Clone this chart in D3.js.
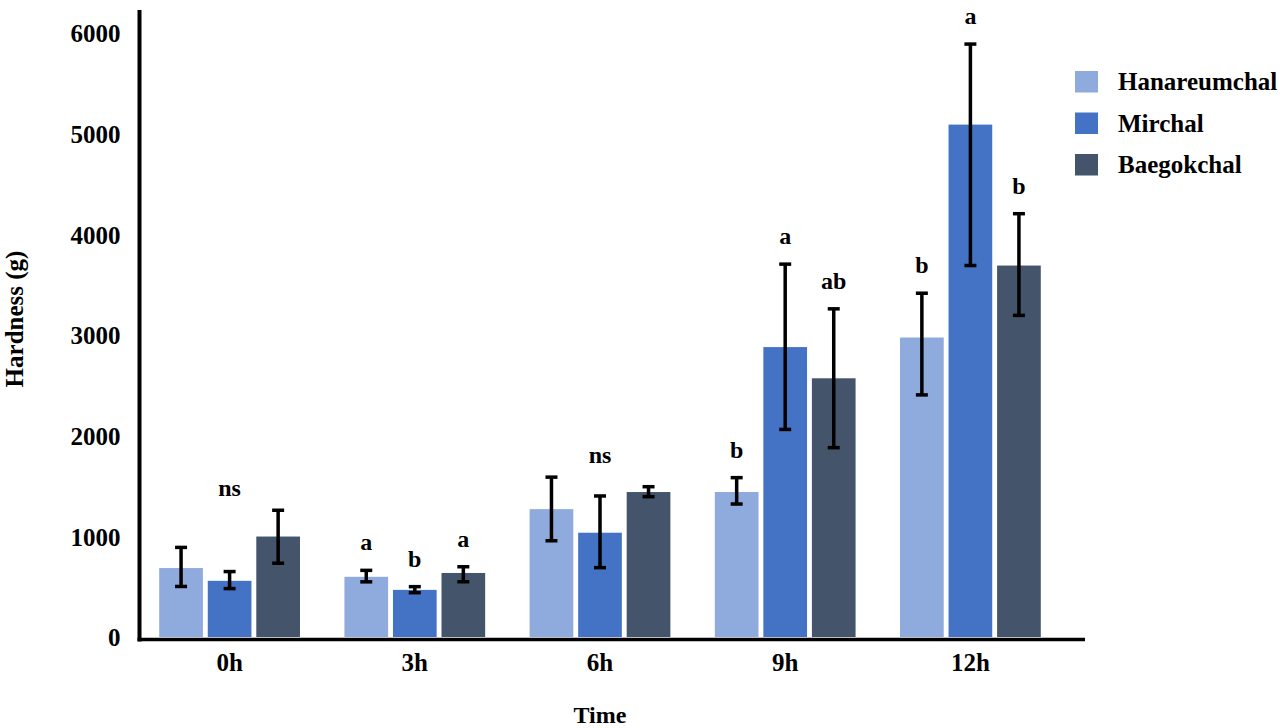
<!DOCTYPE html>
<html lang="en">
<head>
    <meta charset="UTF-8">
    <title>Hardness over time</title>
    <script src="https://cdnjs.cloudflare.com/ajax/libs/d3/7.8.5/d3.min.js"></script>
    <style>
        * { margin: 0; padding: 0; }
        body { background: #fff; width: 1280px; height: 728px; overflow: hidden; }
        svg text { font-family: "Liberation Serif", "Times New Roman", serif; font-weight: bold; fill: #000; }
    </style>
</head>
<body>
    <svg id="chart" width="1280" height="728"></svg>

    <script>
        // data
        const times = ['0h', '3h', '6h', '9h', '12h'];
        const varieties = ['Hanareumchal', 'Mirchal', 'Baegokchal'];
        const colors = ['#8FAADC', '#4472C4', '#44546A'];

        const hanareumchal = [685, 598, 1270, 1440, 2975];
        const mirchal = [558, 468, 1036, 2880, 5090];
        const baegokchal = [998, 636, 1440, 2570, 3690];

        // error bars are not always symmetric in the figure
        const hanareumchalUp = [205, 64, 318, 143, 440];
        const hanareumchalDown = [183, 50, 314, 119, 570];
        const mirchalUp = [92, 32, 365, 824, 800];
        const mirchalDown = [77, 28, 347, 818, 1400];
        const baegokchalUp = [261, 62, 53, 690, 515];
        const baegokchalDown = [265, 87, 46, 689, 495];

        // significance letters per bar, and "ns" per group
        const barLetters = [
            [null, null, null],
            ['a', 'b', 'a'],
            [null, null, null],
            ['b', 'a', 'ab'],
            ['b', 'a', 'b']
        ];
        const groupLetters = ['ns', null, 'ns', null, null];

        const yTicks = [0, 1000, 2000, 3000, 4000, 5000, 6000];

        const means = [hanareumchal, mirchal, baegokchal];
        const errUp = [hanareumchalUp, mirchalUp, baegokchalUp];
        const errDown = [hanareumchalDown, mirchalDown, baegokchalDown];

        const svg = d3.select('#chart');

        const x0 = d3.scaleBand()
            .domain(times)
            .range([137, 1063])
            .paddingInner(0.24)
            .paddingOuter(0.12);

        const x1 = d3.scaleBand()
            .domain(varieties)
            .range([0, x0.bandwidth()])
            .paddingInner(0.1);

        const y = d3.scaleLinear()
            .domain([0, 6000])
            .range([637, 33]);

        // build flat list of bars
        const bars = [];
        times.forEach((t, i) => {
            varieties.forEach((v, j) => {
                bars.push({
                    time: t, variety: v, idx: j,
                    value: means[j][i],
                    hi: means[j][i] + errUp[j][i],
                    lo: means[j][i] - errDown[j][i],
                    letter: barLetters[i][j]
                });
            });
        });

        const groups = svg.append('g')
            .selectAll('g')
            .data(bars)
            .enter().append('g')
            .attr('transform', d => `translate(${x0(d.time) + x1(d.variety)},0)`);

        groups.append('rect')
            .attr('x', 0)
            .attr('y', d => y(d.value))
            .attr('width', x1.bandwidth())
            .attr('height', d => y(0) - y(d.value))
            .attr('fill', d => colors[d.idx]);

        // error bars
        const cx = x1.bandwidth() / 2;
        const capW = 6;
        groups.append('line')
            .attr('x1', cx).attr('x2', cx)
            .attr('y1', d => y(d.hi))
            .attr('y2', d => y(d.lo))
            .attr('stroke', '#000').attr('stroke-width', 3.5);
        groups.append('line')
            .attr('x1', cx - capW).attr('x2', cx + capW)
            .attr('y1', d => y(d.hi))
            .attr('y2', d => y(d.hi))
            .attr('stroke', '#000').attr('stroke-width', 3.5);
        groups.append('line')
            .attr('x1', cx - capW).attr('x2', cx + capW)
            .attr('y1', d => y(d.lo))
            .attr('y2', d => y(d.lo))
            .attr('stroke', '#000').attr('stroke-width', 3.5);

        // letters above bars
        groups.filter(d => d.letter)
            .append('text')
            .attr('x', cx)
            .attr('y', d => y(d.hi) - 20)
            .attr('text-anchor', 'middle')
            .attr('font-size', '24px')
            .text(d => d.letter);

        // ns above groups
        times.forEach((t, i) => {
            if (!groupLetters[i]) return;
            const top = d3.max(varieties, (v, j) => means[j][i] + errUp[j][i]);
            svg.append('text')
                .attr('x', x0(t) + x0.bandwidth() / 2)
                .attr('y', y(top) - 14)
                .attr('text-anchor', 'middle')
                .attr('font-size', '24px')
                .text(groupLetters[i]);
        });

        // axes
        const yAxis = svg.append('g')
            .attr('transform', 'translate(139.5,0)')
            .call(d3.axisLeft(y).tickValues(yTicks).tickSize(0).tickPadding(19).tickFormat(d3.format('d')));
        yAxis.select('.domain').remove();
        yAxis.selectAll('text').attr('font-size', '25px').attr('font-family', null).attr('dy', '0.35em');

        const xAxis = svg.append('g')
            .attr('transform', 'translate(0,639.5)')
            .call(d3.axisBottom(x0).tickSize(0).tickPadding(14));
        xAxis.select('.domain').remove();
        xAxis.selectAll('text').attr('font-size', '25px').attr('font-family', null);

        svg.append('line')
            .attr('x1', 139.5).attr('x2', 139.5)
            .attr('y1', 10).attr('y2', 641.5)
            .attr('stroke', '#000').attr('stroke-width', 4);
        svg.append('line')
            .attr('x1', 137.5).attr('x2', 1085)
            .attr('y1', 639.5).attr('y2', 639.5)
            .attr('stroke', '#000').attr('stroke-width', 3.5);

        // axis titles
        svg.append('text')
            .attr('x', x0.range()[0] + (x0.range()[1] - x0.range()[0]) / 2)
            .attr('y', 723)
            .attr('text-anchor', 'middle')
            .attr('font-size', '24px')
            .text('Time');

        svg.append('text')
            .attr('transform', 'translate(23,319) rotate(-90)')
            .attr('text-anchor', 'middle')
            .attr('font-size', '25px')
            .text('Hardness (g)');

        // legend
        const legend = svg.append('g')
            .selectAll('g')
            .data(varieties)
            .enter().append('g')
            .attr('transform', (d, i) => `translate(1075,${71 + i * 41.5})`);
        legend.append('rect')
            .attr('width', 23).attr('height', 21.5)
            .attr('fill', (d, i) => colors[i]);
        legend.append('text')
            .attr('x', 43)
            .attr('y', 19)
            .attr('font-size', '25px')
            .text(d => d);
    </script>
</body>
</html>
